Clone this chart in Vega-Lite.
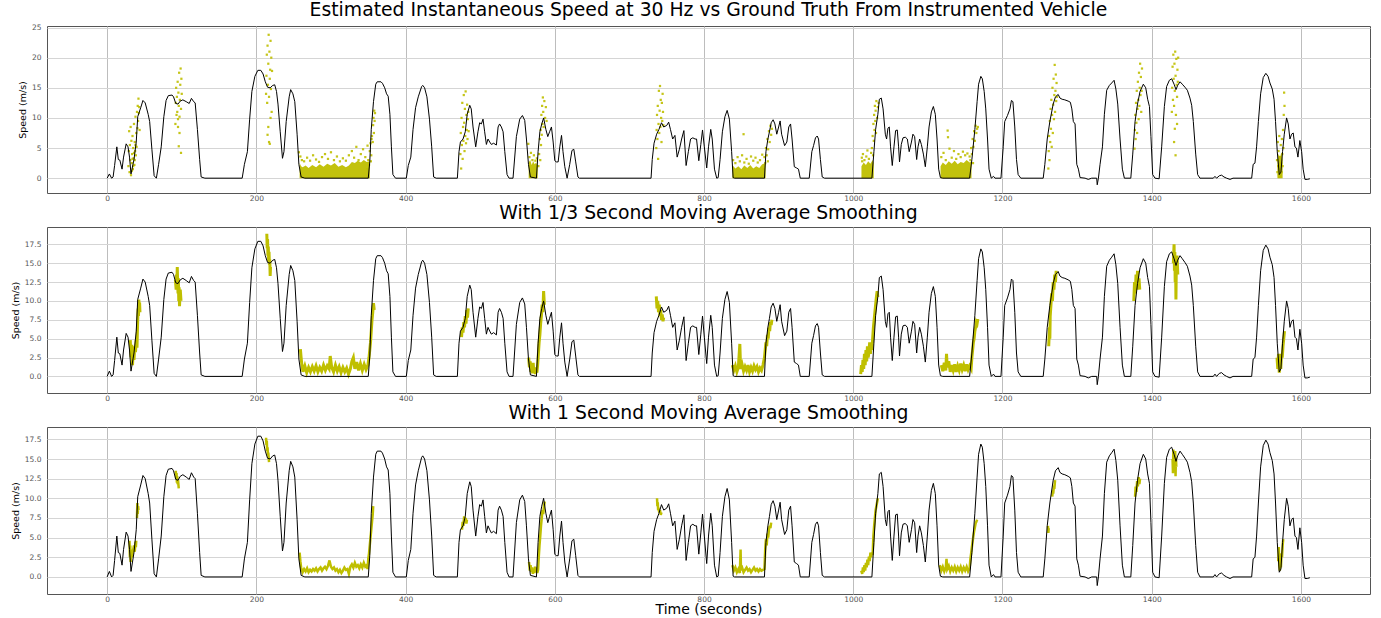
{
"$schema": "https://vega.github.io/schema/vega-lite/v6.json",
"padding": {"left": 9, "top": 0, "right": 5, "bottom": 0},
"spacing": 1,
"config": {
 "font": "DejaVu Sans",
 "view": {"stroke": "#555", "strokeWidth": 1},
 "axis": {"domain": false, "ticks": false, "labelFont": "DejaVu Sans", "labelFontSize": 7.5, "labelColor": "#555", "gridWidth": 1, "titleFont": "DejaVu Sans", "titleFontWeight": "normal", "titleColor": "black"},
 "axisX": {"labelPadding": 1, "titleFontSize": 14, "titlePadding": 0, "gridColor": "#bdbdbd", "format": "d"},
 "axisY": {"labelPadding": 6, "titleFontSize": 9.5, "titlePadding": 4, "gridColor": "#d5d5d5"},
 "title": {"font": "DejaVu Sans", "fontSize": 18.8, "fontWeight": "normal", "color": "black", "offset": 0, "anchor": "middle"}
},
"datasets": {
"truth": [
{"t":0,"v":0},{"t":3,"v":0.7},{"t":6,"v":0},{"t":8,"v":0.2},{"t":10,"v":2.1},{"t":13,"v":5.2},{"t":15,"v":3.1},{"t":17,"v":3.0},{"t":20,"v":1.5},{"t":22,"v":3.5},{"t":25.5,"v":5.7},{"t":28,"v":5.2},{"t":30,"v":3.5},{"t":32,"v":0.7},{"t":36,"v":3.1},{"t":39,"v":6},{"t":41,"v":10.2},{"t":45,"v":11.7},{"t":48,"v":12.9},{"t":51,"v":12.5},{"t":55,"v":10.6},{"t":57,"v":9.4},{"t":60,"v":4.8},{"t":63,"v":0.4},{"t":66,"v":0},{"t":69,"v":2.3},{"t":72.5,"v":5.2},{"t":76,"v":10.2},{"t":79,"v":12.9},{"t":82,"v":13.7},{"t":87,"v":13.8},{"t":89,"v":13.5},{"t":92,"v":12.4},{"t":95,"v":12.3},{"t":98,"v":12.8},{"t":101.5,"v":13},{"t":106,"v":12.7},{"t":110,"v":12.4},{"t":113,"v":13.25},{"t":116,"v":12.7},{"t":118,"v":12.5},{"t":121,"v":8.1},{"t":124,"v":3.1},{"t":126,"v":0.2},{"t":131,"v":0},{"t":181,"v":0},{"t":184,"v":2.3},{"t":188,"v":4.4},{"t":191,"v":9.8},{"t":194,"v":14.4},{"t":198,"v":16.9},{"t":202,"v":17.9},{"t":206,"v":17.9},{"t":209,"v":17.3},{"t":212,"v":16},{"t":215,"v":15.1},{"t":218.5,"v":15},{"t":222,"v":15.4},{"t":224.6,"v":15.5},{"t":227,"v":14.4},{"t":229,"v":12.3},{"t":232,"v":7.7},{"t":235,"v":3.3},{"t":237,"v":4.4},{"t":240,"v":9.4},{"t":244,"v":13.5},{"t":246,"v":14.7},{"t":249,"v":14},{"t":251.5,"v":12.7},{"t":254.6,"v":7.3},{"t":257,"v":2.3},{"t":260,"v":0.2},{"t":265,"v":0},{"t":350,"v":0},{"t":352,"v":2.7},{"t":354,"v":8.1},{"t":357,"v":12.7},{"t":360,"v":15.6},{"t":362,"v":16},{"t":367,"v":16},{"t":369,"v":15.75},{"t":372,"v":15},{"t":374.5,"v":14},{"t":376.7,"v":13.6},{"t":379,"v":10.6},{"t":381,"v":5.2},{"t":383,"v":0.6},{"t":386.5,"v":0},{"t":401,"v":0},{"t":403.6,"v":2.1},{"t":407,"v":3.5},{"t":410,"v":8.1},{"t":413.4,"v":11.7},{"t":417,"v":13.5},{"t":421.5,"v":15.2},{"t":423,"v":15.4},{"t":425.5,"v":15},{"t":428.6,"v":13.5},{"t":432,"v":9.8},{"t":435,"v":5.2},{"t":437.6,"v":0.2},{"t":441,"v":0},{"t":469.4,"v":0},{"t":471.6,"v":4.4},{"t":473.5,"v":6},{"t":477,"v":6.5},{"t":480,"v":7.7},{"t":482.6,"v":10.6},{"t":486,"v":12.1},{"t":488,"v":11.5},{"t":490.4,"v":8.5},{"t":494,"v":5.2},{"t":497,"v":7.7},{"t":499.3,"v":9.2},{"t":501.6,"v":9},{"t":503.8,"v":9.8},{"t":506,"v":7.7},{"t":508.3,"v":5.6},{"t":510.5,"v":6.5},{"t":512.8,"v":6},{"t":515,"v":5.6},{"t":518,"v":5.8},{"t":521.7,"v":5.5},{"t":524,"v":8.5},{"t":526,"v":9},{"t":528.4,"v":8.5},{"t":530.7,"v":7.7},{"t":533,"v":4.4},{"t":536,"v":0.6},{"t":538.7,"v":0},{"t":544,"v":0},{"t":548.5,"v":6.9},{"t":553,"v":9.8},{"t":556.6,"v":10.4},{"t":559.7,"v":9.6},{"t":562,"v":6.5},{"t":564.7,"v":2.3},{"t":567.3,"v":0.2},{"t":575.4,"v":0},{"t":577.6,"v":4.4},{"t":580,"v":7.7},{"t":582.5,"v":9},{"t":585,"v":10},{"t":588,"v":8.1},{"t":590.6,"v":6.9},{"t":593,"v":7.7},{"t":595.5,"v":8.5},{"t":597.8,"v":6},{"t":600,"v":2.9},{"t":602,"v":2.7},{"t":604.5,"v":2.7},{"t":606.7,"v":5.2},{"t":609,"v":7.1},{"t":611,"v":4.4},{"t":613.4,"v":1.9},{"t":616.5,"v":0},{"t":620,"v":2.3},{"t":623,"v":4.6},{"t":625.5,"v":4.8},{"t":628,"v":2.7},{"t":631,"v":0.2},{"t":633,"v":0},{"t":729,"v":0},{"t":730.6,"v":3.1},{"t":733,"v":5.8},{"t":736.5,"v":7.3},{"t":739.6,"v":8.1},{"t":743,"v":9.2},{"t":746,"v":8.5},{"t":750,"v":8.75},{"t":752.6,"v":9.3},{"t":755,"v":8.1},{"t":758,"v":6.5},{"t":761,"v":7.1},{"t":764,"v":3.5},{"t":767,"v":4.8},{"t":770,"v":6.5},{"t":773,"v":7.9},{"t":776,"v":2.1},{"t":779,"v":4.4},{"t":782,"v":6.5},{"t":785,"v":6.7},{"t":788,"v":6.5},{"t":790,"v":6.5},{"t":793,"v":2.9},{"t":795.7,"v":5.6},{"t":798,"v":8},{"t":800.4,"v":5.2},{"t":803.6,"v":1.7},{"t":806,"v":5.2},{"t":809,"v":8.1},{"t":811,"v":6.5},{"t":814,"v":1.5},{"t":817,"v":0},{"t":819,"v":0.1},{"t":821.5,"v":3.1},{"t":824.6,"v":7.7},{"t":828,"v":10.2},{"t":831,"v":11.25},{"t":834,"v":9.8},{"t":837,"v":4.4},{"t":839,"v":0.1},{"t":841,"v":0},{"t":881,"v":0},{"t":883,"v":4.4},{"t":885.6,"v":6.5},{"t":887.7,"v":7.7},{"t":890,"v":9.2},{"t":892.6,"v":9.7},{"t":895,"v":9},{"t":897.5,"v":7.3},{"t":900,"v":8.5},{"t":902,"v":9.5},{"t":904,"v":7.3},{"t":908,"v":5.4},{"t":911,"v":6},{"t":913.6,"v":8.5},{"t":916,"v":9},{"t":918,"v":6.5},{"t":921,"v":1.9},{"t":924,"v":1.7},{"t":926.6,"v":1.5},{"t":929,"v":0},{"t":941,"v":0},{"t":944.5,"v":4.4},{"t":946.8,"v":5.4},{"t":949.4,"v":6.7},{"t":951.7,"v":7},{"t":953.5,"v":6.5},{"t":956,"v":3.1},{"t":958.4,"v":0.2},{"t":961.5,"v":0},{"t":1025,"v":0},{"t":1027.7,"v":4.4},{"t":1030,"v":8.1},{"t":1033,"v":10.6},{"t":1035,"v":13.1},{"t":1037.6,"v":13.3},{"t":1040,"v":11.5},{"t":1043,"v":7.3},{"t":1044.7,"v":6.5},{"t":1046.5,"v":8.3},{"t":1048.3,"v":8.5},{"t":1050,"v":5.2},{"t":1052.3,"v":2.1},{"t":1054.6,"v":5.2},{"t":1056.8,"v":7.9},{"t":1059,"v":8},{"t":1060.8,"v":5.2},{"t":1062,"v":2.7},{"t":1064.4,"v":5.6},{"t":1066.7,"v":6.7},{"t":1069.8,"v":6.8},{"t":1072.5,"v":6.5},{"t":1075,"v":4.4},{"t":1078,"v":6},{"t":1080,"v":7.3},{"t":1082.3,"v":6.9},{"t":1085,"v":3.1},{"t":1086.8,"v":5.2},{"t":1089,"v":6.5},{"t":1091.3,"v":5.6},{"t":1094,"v":4},{"t":1096.6,"v":1.9},{"t":1099.3,"v":5.2},{"t":1101.6,"v":8.5},{"t":1104.7,"v":11},{"t":1107.4,"v":11.9},{"t":1110,"v":10.6},{"t":1112.3,"v":6.5},{"t":1114.5,"v":1.5},{"t":1116.8,"v":0.1},{"t":1120,"v":0},{"t":1156,"v":0},{"t":1159,"v":3.1},{"t":1163,"v":8.1},{"t":1166,"v":12.7},{"t":1168,"v":15.6},{"t":1171,"v":16.9},{"t":1173,"v":16.5},{"t":1175.5,"v":14.4},{"t":1177.6,"v":11.5},{"t":1180,"v":6.5},{"t":1182,"v":1.5},{"t":1185,"v":0},{"t":1188,"v":0.3},{"t":1190,"v":0},{"t":1198,"v":0},{"t":1201,"v":5.2},{"t":1203,"v":9.4},{"t":1206.7,"v":10.4},{"t":1210,"v":11.5},{"t":1212,"v":12.9},{"t":1214,"v":12.7},{"t":1216.5,"v":8.5},{"t":1218.8,"v":3.1},{"t":1221,"v":0.6},{"t":1224.6,"v":0},{"t":1254.6,"v":0},{"t":1256.8,"v":2.3},{"t":1260,"v":6.5},{"t":1263.5,"v":9.4},{"t":1268,"v":12.3},{"t":1271,"v":13.5},{"t":1274.7,"v":13.9},{"t":1277,"v":13.3},{"t":1280,"v":13.1},{"t":1283.6,"v":13},{"t":1288,"v":12.8},{"t":1291,"v":12.6},{"t":1293,"v":11.5},{"t":1295,"v":9.4},{"t":1297.3,"v":9},{"t":1299.6,"v":2.3},{"t":1301.8,"v":1.5},{"t":1304,"v":0.1},{"t":1310.7,"v":0},{"t":1315,"v":-0.2},{"t":1319.6,"v":0},{"t":1326.3,"v":0},{"t":1327,"v":-1.1},{"t":1328.6,"v":0},{"t":1330.8,"v":2.3},{"t":1334,"v":5.2},{"t":1336.6,"v":10.6},{"t":1339.7,"v":14.6},{"t":1343.3,"v":15.4},{"t":1346.4,"v":15.8},{"t":1349.6,"v":16.25},{"t":1352,"v":14.8},{"t":1354.5,"v":12.3},{"t":1357.6,"v":6.5},{"t":1360.7,"v":1.5},{"t":1363.4,"v":0},{"t":1372,"v":0},{"t":1374.6,"v":4},{"t":1377.7,"v":9.4},{"t":1381,"v":12.3},{"t":1384.4,"v":14.4},{"t":1388.8,"v":15.6},{"t":1392,"v":15},{"t":1394.6,"v":13.1},{"t":1397,"v":11.9},{"t":1399,"v":6.9},{"t":1401.3,"v":0.6},{"t":1404.5,"v":0},{"t":1410,"v":-0.1},{"t":1413.4,"v":5.2},{"t":1417,"v":11.9},{"t":1420,"v":15.2},{"t":1423.7,"v":16.25},{"t":1426.8,"v":16.5},{"t":1430,"v":15.6},{"t":1432.6,"v":14.7},{"t":1434.8,"v":15.4},{"t":1438,"v":16},{"t":1441,"v":15.6},{"t":1444.6,"v":15.1},{"t":1447.8,"v":14.6},{"t":1451.3,"v":13.3},{"t":1453.6,"v":12.1},{"t":1455.8,"v":9.4},{"t":1459,"v":4},{"t":1461.6,"v":0.6},{"t":1464.7,"v":0},{"t":1482.6,"v":0},{"t":1484.8,"v":0.3},{"t":1487,"v":0},{"t":1490.6,"v":0.4},{"t":1493.7,"v":0.5},{"t":1496.9,"v":0.2},{"t":1500.4,"v":0},{"t":1505,"v":-0.2},{"t":1509,"v":0},{"t":1534,"v":0},{"t":1536,"v":2.3},{"t":1538.4,"v":2.5},{"t":1540.6,"v":5.2},{"t":1543,"v":9.4},{"t":1546,"v":14},{"t":1549.5,"v":16.7},{"t":1553,"v":17.4},{"t":1556,"v":16.9},{"t":1558.5,"v":15.8},{"t":1561.6,"v":14.8},{"t":1564,"v":13.1},{"t":1566,"v":9.4},{"t":1568.3,"v":4.4},{"t":1571,"v":0.6},{"t":1573.2,"v":1.0},{"t":1575.4,"v":4.4},{"t":1577.7,"v":7.3},{"t":1580.8,"v":10},{"t":1583,"v":9},{"t":1585.3,"v":6.5},{"t":1587.5,"v":7.3},{"t":1589.7,"v":7.5},{"t":1592,"v":5.2},{"t":1594,"v":5},{"t":1596,"v":3.5},{"t":1598.6,"v":6.25},{"t":1601,"v":4.4},{"t":1603,"v":1.5},{"t":1605.4,"v":-0.2},{"t":1608.5,"v":-0.2},{"t":1612,"v":-0.1}
],
"p1core": [
{"s":"D","t":258,"v":2.5},{"s":"D","t":260,"v":2.0},{"s":"D","t":262,"v":1.8},{"s":"D","t":266,"v":2.1},{"s":"D","t":270,"v":1.7},{"s":"D","t":275,"v":2.2},{"s":"D","t":280,"v":1.8},{"s":"D","t":285,"v":2.3},{"s":"D","t":290,"v":1.9},{"s":"D","t":295,"v":2.4},{"s":"D","t":300,"v":2.1},{"s":"D","t":305,"v":2.5},{"s":"D","t":310,"v":1.9},{"s":"D","t":315,"v":2.2},{"s":"D","t":320,"v":1.8},{"s":"D","t":324,"v":2.1},{"s":"D","t":328,"v":2.7},{"s":"D","t":332,"v":2.5},{"s":"D","t":336,"v":2.9},{"s":"D","t":340,"v":2.6},{"s":"D","t":344,"v":3.0},{"s":"D","t":348,"v":2.7},{"s":"D","t":352,"v":2.8},
{"s":"F","t":565,"v":2.6},{"s":"F","t":567,"v":3.0},{"s":"F","t":569,"v":2.2},{"s":"F","t":571,"v":2.8},{"s":"F","t":573,"v":2.3},{"s":"F","t":575,"v":2.6},{"s":"F","t":577,"v":2.0},
{"s":"H","t":838,"v":2.2},{"s":"H","t":842,"v":1.6},{"s":"H","t":846,"v":2.0},{"s":"H","t":850,"v":1.5},{"s":"H","t":854,"v":2.1},{"s":"H","t":858,"v":1.7},{"s":"H","t":862,"v":2.2},{"s":"H","t":866,"v":1.6},{"s":"H","t":870,"v":2.0},{"s":"H","t":874,"v":1.7},{"s":"H","t":878,"v":2.3},{"s":"H","t":882.5,"v":2.5},
{"s":"I","t":1011,"v":2.0},{"s":"I","t":1014,"v":2.6},{"s":"I","t":1017,"v":2.2},{"s":"I","t":1020,"v":2.8},{"s":"I","t":1023,"v":2.4},{"s":"I","t":1026,"v":3.0},{"s":"I","t":1027.5,"v":2.5},
{"s":"J","t":1117,"v":2.0},{"s":"J","t":1120,"v":2.6},{"s":"J","t":1124,"v":2.2},{"s":"J","t":1128,"v":2.8},{"s":"J","t":1132,"v":2.4},{"s":"J","t":1136,"v":2.9},{"s":"J","t":1140,"v":2.3},{"s":"J","t":1144,"v":2.7},{"s":"J","t":1148,"v":2.5},{"s":"J","t":1152,"v":3.0},{"s":"J","t":1156,"v":2.6},{"s":"J","t":1158.5,"v":2.8},
{"s":"N","t":1568.5,"v":3.0},{"s":"N","t":1570,"v":4.0},{"s":"N","t":1572,"v":3.5},{"s":"N","t":1574,"v":4.3},{"s":"N","t":1575.5,"v":3.0}
],
"p1pts": [
{"t":28.5,"v":2.0},{"t":29,"v":4.5},{"t":29.5,"v":7.8},{"t":30,"v":1.0},{"t":30.5,"v":5.5},{"t":31,"v":3.0},{"t":31.5,"v":8.5},{"t":32,"v":0.5},{"t":32.5,"v":6.2},{"t":33,"v":2.5},{"t":33.5,"v":4.0},{"t":34,"v":7.0},{"t":34.5,"v":1.5},{"t":35,"v":5.0},{"t":35.5,"v":3.3},{"t":36,"v":9.0},{"t":36.5,"v":2.2},{"t":37,"v":6.0},{"t":37.5,"v":4.5},{"t":38,"v":10.2},{"t":38.5,"v":3.8},{"t":39,"v":7.5},{"t":39.5,"v":5.2},{"t":40,"v":11.0},{"t":40.5,"v":8.3},{"t":41,"v":12.0},{"t":41.5,"v":9.5},{"t":42,"v":13.2},{"t":42.5,"v":10.8},{"t":43,"v":11.8},{"t":43.5,"v":8.0},{"t":34,"v":3.2},{"t":35,"v":2.0},{"t":36,"v":4.2},{"t":37,"v":3.0},{"t":38,"v":5.5},{"t":33,"v":1.2},
{"t":91.5,"v":9.0},{"t":92,"v":12.5},{"t":92.5,"v":15.0},{"t":93,"v":10.5},{"t":93.5,"v":13.5},{"t":94,"v":11.0},{"t":94.5,"v":16.0},{"t":95,"v":9.8},{"t":95.5,"v":14.2},{"t":96,"v":12.0},{"t":96.5,"v":17.5},{"t":97,"v":10.2},{"t":97.5,"v":13.0},{"t":98,"v":15.5},{"t":98.5,"v":18.2},{"t":99,"v":11.5},{"t":99.5,"v":16.5},{"t":100,"v":14.0},{"t":96,"v":5.3},{"t":99,"v":4.2},{"t":97,"v":7.5},{"t":95,"v":8.5},
{"t":213,"v":14.0},{"t":213.5,"v":17.0},{"t":214,"v":20.5},{"t":214.5,"v":12.5},{"t":215,"v":22.0},{"t":215.5,"v":15.5},{"t":216,"v":19.0},{"t":216.5,"v":23.8},{"t":217,"v":13.5},{"t":217.5,"v":21.0},{"t":218,"v":16.5},{"t":218.5,"v":18.0},{"t":219,"v":22.8},{"t":219.5,"v":14.8},{"t":220,"v":20.0},{"t":220.5,"v":11.0},{"t":221,"v":17.8},{"t":216,"v":8.5},{"t":218,"v":5.7},{"t":219,"v":10.0},{"t":215,"v":7.2},{"t":217,"v":6.0},
{"t":257,"v":4.3},{"t":259,"v":3.6},{"t":261,"v":3.0},{"t":264,"v":2.8},{"t":268,"v":3.4},{"t":272,"v":2.9},{"t":276,"v":3.8},{"t":280,"v":3.1},{"t":284,"v":2.7},{"t":288,"v":3.5},{"t":292,"v":4.0},{"t":296,"v":3.2},{"t":300,"v":4.3},{"t":304,"v":3.0},{"t":308,"v":3.6},{"t":312,"v":2.8},{"t":316,"v":3.3},{"t":320,"v":2.9},{"t":324,"v":3.8},{"t":328,"v":4.5},{"t":331,"v":3.4},{"t":334,"v":5.2},{"t":337,"v":3.0},{"t":340,"v":4.0},{"t":343,"v":4.8},{"t":346,"v":3.5},{"t":349,"v":5.4},
{"t":349,"v":1.5},{"t":350,"v":3.0},{"t":351,"v":2.2},{"t":352,"v":4.5},{"t":353,"v":5.8},{"t":354,"v":3.8},{"t":355,"v":7.0},{"t":356,"v":6.0},{"t":356.5,"v":8.8},{"t":357,"v":10.0},{"t":357.5,"v":7.5},{"t":358,"v":11.2},{"t":358.5,"v":9.5},{"t":359,"v":10.8},{"t":354.5,"v":6.5},{"t":353.5,"v":2.8},
{"t":473.5,"v":4.0},{"t":474,"v":7.5},{"t":474.5,"v":1.6},{"t":475,"v":10.0},{"t":475.5,"v":5.5},{"t":476,"v":12.5},{"t":476.5,"v":3.2},{"t":477,"v":8.5},{"t":477.5,"v":6.2},{"t":478,"v":13.8},{"t":478.5,"v":9.2},{"t":479,"v":4.5},{"t":479.5,"v":11.5},{"t":480,"v":7.0},{"t":480.5,"v":14.4},{"t":481,"v":5.8},{"t":481.5,"v":10.5},{"t":482,"v":8.0},{"t":482.5,"v":12.2},{"t":483,"v":6.5},{"t":483.5,"v":9.8},{"t":484,"v":11.0},{"t":484.5,"v":7.8},
{"t":564.5,"v":5.7},{"t":566,"v":3.5},{"t":568,"v":4.2},{"t":570,"v":3.0},{"t":572,"v":3.8},{"t":574,"v":2.9},{"t":576,"v":3.3},{"t":578,"v":2.0},{"t":579,"v":4.0},{"t":580,"v":6.5},{"t":580.5,"v":3.0},{"t":581,"v":8.0},{"t":581.5,"v":5.5},{"t":582,"v":10.5},{"t":582.5,"v":7.2},{"t":583,"v":12.0},{"t":583.5,"v":9.0},{"t":584,"v":13.4},{"t":584.5,"v":11.0},{"t":585,"v":8.5},{"t":586,"v":12.8},{"t":587,"v":10.0},{"t":588,"v":11.8},{"t":589,"v":9.5},
{"t":736,"v":5.0},{"t":736.5,"v":8.0},{"t":737,"v":10.5},{"t":737.5,"v":6.5},{"t":738,"v":12.0},{"t":738.5,"v":3.2},{"t":739,"v":9.0},{"t":739.5,"v":14.5},{"t":740,"v":7.5},{"t":740.5,"v":11.2},{"t":741,"v":15.3},{"t":741.5,"v":8.5},{"t":742,"v":13.0},{"t":742.5,"v":10.0},{"t":743,"v":6.0},{"t":743.5,"v":12.5},{"t":744,"v":9.5},{"t":744.5,"v":14.0},{"t":745,"v":11.0},{"t":745.5,"v":8.8},
{"t":839,"v":3.0},{"t":842,"v":2.5},{"t":845,"v":3.5},{"t":848,"v":2.8},{"t":851,"v":3.8},{"t":853,"v":7.3},{"t":854,"v":2.6},{"t":857,"v":3.2},{"t":860,"v":2.4},{"t":863,"v":3.6},{"t":866,"v":2.9},{"t":869,"v":3.4},{"t":872,"v":2.6},{"t":875,"v":3.0},{"t":878,"v":3.9},
{"t":880,"v":1.5},{"t":881,"v":3.5},{"t":882,"v":2.5},{"t":883,"v":5.0},{"t":884,"v":3.8},{"t":885,"v":6.5},{"t":886,"v":4.8},{"t":887,"v":7.8},{"t":888,"v":6.0},{"t":889,"v":8.7},{"t":890,"v":7.2},{"t":891,"v":8.2},{"t":885.5,"v":2.8},
{"t":1011.5,"v":3.4},{"t":1013,"v":4.0},{"t":1015,"v":3.0},{"t":1017.5,"v":3.6},{"t":1019,"v":4.6},{"t":1021,"v":3.2},{"t":1024,"v":4.2},{"t":1012,"v":2.8},
{"t":1025,"v":5.0},{"t":1026,"v":7.0},{"t":1026.5,"v":3.8},{"t":1027,"v":9.0},{"t":1027.5,"v":6.2},{"t":1028,"v":10.5},{"t":1028.5,"v":8.0},{"t":1029,"v":12.0},{"t":1029.5,"v":9.5},{"t":1030,"v":11.2},{"t":1031,"v":12.8},{"t":1032,"v":10.0},{"t":1033,"v":11.8},{"t":1034,"v":12.5},{"t":1030.5,"v":7.5},
{"t":1118,"v":3.5},{"t":1121,"v":4.2},{"t":1124,"v":3.0},{"t":1126.5,"v":7.9},{"t":1127,"v":6.8},{"t":1129,"v":4.9},{"t":1132,"v":3.4},{"t":1135,"v":4.5},{"t":1138,"v":3.2},{"t":1141,"v":4.0},{"t":1144,"v":3.5},{"t":1147,"v":4.4},{"t":1150,"v":3.8},{"t":1153,"v":4.1},{"t":1156,"v":3.6},
{"t":1157,"v":3.0},{"t":1158,"v":5.0},{"t":1159,"v":4.0},{"t":1160,"v":6.5},{"t":1161,"v":5.2},{"t":1162,"v":7.8},{"t":1163,"v":6.2},{"t":1164,"v":8.7},{"t":1165,"v":7.5},{"t":1166,"v":8.2},{"t":1167,"v":8.5},{"t":1160.5,"v":2.5},
{"t":1261.5,"v":1.6},{"t":1262,"v":4.5},{"t":1262.5,"v":7.0},{"t":1263,"v":3.0},{"t":1263.5,"v":9.5},{"t":1264,"v":6.0},{"t":1264.5,"v":11.5},{"t":1265,"v":8.2},{"t":1265.5,"v":13.0},{"t":1266,"v":5.2},{"t":1266.5,"v":10.5},{"t":1267,"v":15.0},{"t":1267.5,"v":7.5},{"t":1268,"v":12.2},{"t":1268.5,"v":16.5},{"t":1269,"v":9.8},{"t":1269.5,"v":13.8},{"t":1270,"v":18.8},{"t":1270.5,"v":11.0},{"t":1271,"v":14.5},{"t":1271.5,"v":17.2},{"t":1272,"v":12.8},{"t":1272.5,"v":15.8},{"t":1273,"v":13.5},
{"t":1377,"v":4.9},{"t":1377.5,"v":8.0},{"t":1378,"v":10.5},{"t":1378.5,"v":6.5},{"t":1379,"v":12.5},{"t":1379.5,"v":9.2},{"t":1380,"v":14.5},{"t":1380.5,"v":7.5},{"t":1381,"v":11.5},{"t":1381.5,"v":16.0},{"t":1382,"v":13.0},{"t":1382.5,"v":9.8},{"t":1383,"v":17.5},{"t":1383.5,"v":12.0},{"t":1384,"v":15.0},{"t":1384.5,"v":19.0},{"t":1385,"v":13.8},{"t":1385.5,"v":16.8},{"t":1386,"v":11.0},{"t":1386.5,"v":14.5},{"t":1387,"v":18.2},
{"t":1427,"v":11.0},{"t":1427.5,"v":15.0},{"t":1428,"v":18.5},{"t":1428.5,"v":13.0},{"t":1429,"v":20.5},{"t":1429.5,"v":16.5},{"t":1430,"v":12.0},{"t":1430.5,"v":19.0},{"t":1431,"v":14.5},{"t":1431.5,"v":21.0},{"t":1432,"v":17.0},{"t":1432.5,"v":10.5},{"t":1433,"v":19.8},{"t":1433.5,"v":15.5},{"t":1434,"v":13.5},{"t":1434.5,"v":18.0},{"t":1435,"v":16.0},{"t":1435.5,"v":20.0},{"t":1430,"v":6.0},{"t":1432,"v":3.8},{"t":1431,"v":8.2},{"t":1434,"v":9.0},
{"t":1568,"v":3.0},{"t":1568.5,"v":1.0},{"t":1569,"v":6.0},{"t":1569.5,"v":2.0},{"t":1570,"v":4.5},{"t":1570.5,"v":0.5},{"t":1571,"v":7.0},{"t":1571.5,"v":1.5},{"t":1572,"v":3.5},{"t":1572.5,"v":0.3},{"t":1573,"v":5.5},{"t":1573.5,"v":2.5},{"t":1574,"v":1.0},{"t":1574.5,"v":6.5},{"t":1575,"v":4.0},{"t":1575.5,"v":2.0},{"t":1576,"v":8.0},{"t":1577,"v":10.5},{"t":1577.5,"v":14.2},{"t":1578,"v":12.0},{"t":1576.5,"v":5.0},{"t":1572,"v":0.8},{"t":1571,"v":0.2}
],
"p2": [
{"s":"a","t":31,"v":4.8},{"s":"a","t":32,"v":2.5},{"s":"a","t":33,"v":4.2},{"s":"a","t":34,"v":1.5},{"s":"a","t":35,"v":3.5},{"s":"a","t":36,"v":2.2},{"s":"a","t":37,"v":4.0},{"s":"a","t":38,"v":3.2},{"s":"a","t":39,"v":4.8},{"s":"a","t":40,"v":3.8},{"s":"a","t":40.5,"v":5.8},{"s":"a","t":41,"v":7.5},{"s":"a","t":41.5,"v":9.0},{"s":"a","t":42,"v":8.0},{"s":"a","t":42.5,"v":10.2},{"s":"a","t":43,"v":8.8},{"s":"a","t":43.5,"v":9.8},{"s":"a","t":44,"v":8.5},
{"s":"b","t":91.5,"v":12.8},{"s":"b","t":92.5,"v":11.5},{"s":"b","t":93,"v":13.5},{"s":"b","t":93.5,"v":12.0},{"s":"b","t":94,"v":14.5},{"s":"b","t":94.5,"v":12.5},{"s":"b","t":95,"v":11.0},{"s":"b","t":95.5,"v":13.0},{"s":"b","t":96,"v":10.0},{"s":"b","t":96.5,"v":11.8},{"s":"b","t":97,"v":9.3},{"s":"b","t":97.5,"v":10.5},{"s":"b","t":98,"v":11.5},{"s":"b","t":99,"v":10.0},
{"s":"c","t":214,"v":18.9},{"s":"c","t":214.5,"v":17.0},{"s":"c","t":215,"v":18.2},{"s":"c","t":215.5,"v":16.0},{"s":"c","t":216,"v":17.2},{"s":"c","t":216.5,"v":15.2},{"s":"c","t":217,"v":16.5},{"s":"c","t":217.5,"v":14.8},{"s":"c","t":218,"v":15.5},{"s":"c","t":218.5,"v":13.3},{"s":"c","t":219,"v":14.5},
{"s":"d","t":259,"v":3.6},{"s":"d","t":260,"v":2.5},{"s":"d","t":261,"v":1.5},{"s":"d","t":262.5,"v":0.6},{"s":"d","t":265,"v":1.4},{"s":"d","t":267.5,"v":0.5},{"s":"d","t":270,"v":1.2},{"s":"d","t":272.5,"v":0.6},{"s":"d","t":275,"v":1.3},{"s":"d","t":277.5,"v":0.7},{"s":"d","t":280,"v":1.4},{"s":"d","t":282.5,"v":0.6},{"s":"d","t":285,"v":1.2},{"s":"d","t":287.5,"v":0.7},{"s":"d","t":290,"v":1.5},{"s":"d","t":292.5,"v":0.8},{"s":"d","t":295,"v":1.4},{"s":"d","t":297.5,"v":1.0},{"s":"d","t":299,"v":2.7},{"s":"d","t":301,"v":1.2},{"s":"d","t":303.5,"v":0.6},{"s":"d","t":306,"v":1.5},{"s":"d","t":308.5,"v":0.7},{"s":"d","t":311,"v":1.3},{"s":"d","t":313.5,"v":0.5},{"s":"d","t":316,"v":1.2},{"s":"d","t":318.5,"v":0.6},{"s":"d","t":321,"v":1.1},{"s":"d","t":323.5,"v":0.3},{"s":"d","t":326,"v":1.0},{"s":"d","t":328,"v":2.0},{"s":"d","t":330,"v":2.5},{"s":"d","t":332,"v":1.0},{"s":"d","t":334.5,"v":1.9},{"s":"d","t":337,"v":0.8},{"s":"d","t":339.5,"v":1.7},{"s":"d","t":342,"v":0.8},{"s":"d","t":344.5,"v":1.6},{"s":"d","t":347,"v":0.9},{"s":"d","t":349.5,"v":1.5},{"s":"d","t":351,"v":2.5},{"s":"d","t":352,"v":3.5},{"s":"d","t":353,"v":4.5},{"s":"d","t":354,"v":6.0},{"s":"d","t":355,"v":7.5},{"s":"d","t":356,"v":8.5},{"s":"d","t":357,"v":9.7},{"s":"d","t":358,"v":8.8},
{"s":"e","t":475,"v":5.2},{"s":"e","t":476,"v":6.5},{"s":"e","t":477,"v":5.8},{"s":"e","t":478,"v":7.2},{"s":"e","t":479,"v":6.5},{"s":"e","t":480,"v":8.0},{"s":"e","t":481,"v":7.0},{"s":"e","t":482,"v":8.8},{"s":"e","t":483,"v":7.8},{"s":"e","t":484,"v":9.0},
{"s":"f","t":565,"v":2.5},{"s":"f","t":566,"v":1.2},{"s":"f","t":567,"v":2.0},{"s":"f","t":568,"v":0.6},{"s":"f","t":569,"v":1.5},{"s":"f","t":570,"v":0.4},{"s":"f","t":571,"v":1.8},{"s":"f","t":572,"v":0.5},{"s":"f","t":573,"v":1.2},{"s":"f","t":574,"v":0.3},{"s":"f","t":575,"v":1.0},{"s":"f","t":576,"v":0.5},{"s":"f","t":577,"v":1.5},{"s":"f","t":578,"v":3.0},{"s":"f","t":579,"v":4.5},{"s":"f","t":580,"v":5.5},{"s":"f","t":581,"v":7.0},{"s":"f","t":582,"v":8.0},{"s":"f","t":583,"v":9.5},{"s":"f","t":584,"v":8.5},{"s":"f","t":585,"v":11.3},{"s":"f","t":586,"v":9.5},
{"s":"g","t":736,"v":10.6},{"s":"g","t":737,"v":9.0},{"s":"g","t":738,"v":10.0},{"s":"g","t":739,"v":8.5},{"s":"g","t":740,"v":9.5},{"s":"g","t":741,"v":8.0},{"s":"g","t":742,"v":8.8},{"s":"g","t":743,"v":7.5},{"s":"g","t":744,"v":8.2},{"s":"g","t":745,"v":7.3},{"s":"g","t":746,"v":7.8},
{"s":"h","t":838,"v":1.5},{"s":"h","t":840,"v":0.8},{"s":"h","t":842,"v":1.4},{"s":"h","t":844,"v":0.6},{"s":"h","t":846,"v":1.2},{"s":"h","t":848,"v":4.3},{"s":"h","t":849,"v":1.0},{"s":"h","t":851,"v":1.6},{"s":"h","t":853,"v":0.7},{"s":"h","t":855,"v":1.3},{"s":"h","t":857,"v":0.8},{"s":"h","t":859,"v":1.5},{"s":"h","t":861,"v":0.6},{"s":"h","t":863,"v":1.2},{"s":"h","t":865,"v":0.7},{"s":"h","t":867,"v":1.4},{"s":"h","t":869,"v":0.9},{"s":"h","t":871,"v":1.3},{"s":"h","t":873,"v":0.6},{"s":"h","t":875,"v":1.1},{"s":"h","t":877,"v":0.8},{"s":"h","t":879,"v":1.5},{"s":"h","t":881,"v":2.5},{"s":"h","t":882,"v":3.5},{"s":"h","t":883,"v":4.5},{"s":"h","t":884,"v":4.0},{"s":"h","t":885,"v":5.5},{"s":"h","t":886,"v":5.0},{"s":"h","t":887,"v":6.5},{"s":"h","t":888,"v":6.0},{"s":"h","t":889,"v":7.2},{"s":"h","t":890,"v":6.8},{"s":"h","t":891,"v":7.5},
{"s":"i","t":1010,"v":0.3},{"s":"i","t":1011,"v":1.5},{"s":"i","t":1012,"v":0.6},{"s":"i","t":1013,"v":2.2},{"s":"i","t":1014,"v":1.0},{"s":"i","t":1015,"v":3.0},{"s":"i","t":1016,"v":1.5},{"s":"i","t":1017,"v":3.5},{"s":"i","t":1018,"v":2.0},{"s":"i","t":1019,"v":4.0},{"s":"i","t":1020,"v":2.5},{"s":"i","t":1021,"v":3.2},{"s":"i","t":1022,"v":4.5},{"s":"i","t":1023,"v":3.0},{"s":"i","t":1024,"v":4.2},{"s":"i","t":1025,"v":3.5},{"s":"i","t":1026,"v":5.0},{"s":"i","t":1027,"v":6.5},{"s":"i","t":1028,"v":7.5},{"s":"i","t":1029,"v":8.5},{"s":"i","t":1030,"v":9.5},{"s":"i","t":1031,"v":10.5},{"s":"i","t":1032,"v":11.3},{"s":"i","t":1033,"v":10.5},
{"s":"j","t":1118,"v":1.5},{"s":"j","t":1120,"v":0.7},{"s":"j","t":1122,"v":1.8},{"s":"j","t":1124,"v":0.8},{"s":"j","t":1125,"v":3.0},{"s":"j","t":1126,"v":1.2},{"s":"j","t":1128,"v":2.0},{"s":"j","t":1130,"v":0.6},{"s":"j","t":1132,"v":1.5},{"s":"j","t":1134,"v":0.8},{"s":"j","t":1136,"v":1.6},{"s":"j","t":1138,"v":0.6},{"s":"j","t":1140,"v":1.4},{"s":"j","t":1142,"v":0.8},{"s":"j","t":1144,"v":1.7},{"s":"j","t":1146,"v":0.9},{"s":"j","t":1148,"v":1.5},{"s":"j","t":1150,"v":0.7},{"s":"j","t":1152,"v":1.6},{"s":"j","t":1154,"v":0.9},{"s":"j","t":1156,"v":1.4},{"s":"j","t":1158,"v":1.0},{"s":"j","t":1159,"v":2.5},{"s":"j","t":1160,"v":3.5},{"s":"j","t":1161,"v":4.5},{"s":"j","t":1162,"v":5.0},{"s":"j","t":1163,"v":6.0},{"s":"j","t":1164,"v":6.5},{"s":"j","t":1165,"v":7.2},{"s":"j","t":1166,"v":7.0},{"s":"j","t":1167,"v":7.6},
{"s":"k","t":1262,"v":4.0},{"s":"k","t":1263,"v":6.5},{"s":"k","t":1263.5,"v":5.0},{"s":"k","t":1264,"v":8.0},{"s":"k","t":1265,"v":9.5},{"s":"k","t":1266,"v":11.0},{"s":"k","t":1267,"v":10.0},{"s":"k","t":1268,"v":12.5},{"s":"k","t":1269,"v":11.5},{"s":"k","t":1270,"v":13.5},{"s":"k","t":1271,"v":12.5},{"s":"k","t":1272,"v":14.0},
{"s":"l","t":1376,"v":10.0},{"s":"l","t":1377,"v":12.5},{"s":"l","t":1378,"v":11.0},{"s":"l","t":1379,"v":13.5},{"s":"l","t":1380,"v":11.5},{"s":"l","t":1381,"v":14.0},{"s":"l","t":1382,"v":12.0},{"s":"l","t":1383,"v":13.0},{"s":"l","t":1384,"v":11.5},
{"s":"m","t":1429,"v":15.0},{"s":"m","t":1430,"v":17.5},{"s":"m","t":1430.5,"v":14.0},{"s":"m","t":1431,"v":16.5},{"s":"m","t":1431.5,"v":12.5},{"s":"m","t":1432,"v":15.5},{"s":"m","t":1432.5,"v":10.2},{"s":"m","t":1433,"v":14.5},{"s":"m","t":1434,"v":16.0},{"s":"m","t":1435,"v":13.5},
{"s":"n","t":1568,"v":2.5},{"s":"n","t":1569,"v":1.0},{"s":"n","t":1570,"v":3.0},{"s":"n","t":1571,"v":0.5},{"s":"n","t":1572,"v":2.0},{"s":"n","t":1573,"v":1.0},{"s":"n","t":1574,"v":3.0},{"s":"n","t":1575,"v":2.5},{"s":"n","t":1576,"v":4.0},{"s":"n","t":1577,"v":5.0},{"s":"n","t":1578,"v":6.0}
],
"p3": [
{"s":"a","t":30,"v":4.6},{"s":"a","t":30.5,"v":2.5},{"s":"a","t":31,"v":4.0},{"s":"a","t":31.5,"v":1.9},{"s":"a","t":32,"v":3.5},{"s":"a","t":33,"v":2.5},{"s":"a","t":34,"v":3.0},{"s":"a","t":35,"v":3.5},{"s":"a","t":36,"v":4.0},{"s":"a","t":37,"v":3.2},{"s":"a","t":38,"v":4.5},{"s":"a","t":38.5,"v":3.8},{"s":"a","t":39,"v":4.6},
{"s":"a2","t":40,"v":7.5},{"s":"a2","t":40.5,"v":9.4},{"s":"a2","t":41,"v":8.0},{"s":"a2","t":41.5,"v":9.0},{"s":"a2","t":42,"v":8.5},
{"s":"b","t":92,"v":13.5},{"s":"b","t":92.5,"v":12.5},{"s":"b","t":93,"v":13.2},{"s":"b","t":93.5,"v":12.0},{"s":"b","t":94,"v":12.8},{"s":"b","t":94.5,"v":11.8},{"s":"b","t":95,"v":12.3},{"s":"b","t":96,"v":11.25},
{"s":"c","t":213,"v":17.7},{"s":"c","t":213.5,"v":16.8},{"s":"c","t":214,"v":17.3},{"s":"c","t":214.5,"v":16.0},{"s":"c","t":215,"v":16.5},{"s":"c","t":215.5,"v":15.5},{"s":"c","t":216,"v":15.8},{"s":"c","t":217,"v":14.6},
{"s":"d","t":258,"v":3.1},{"s":"d","t":259,"v":2.0},{"s":"d","t":260,"v":1.2},{"s":"d","t":262,"v":0.6},{"s":"d","t":264,"v":1.0},{"s":"d","t":266,"v":0.7},{"s":"d","t":268,"v":1.1},{"s":"d","t":270,"v":0.6},{"s":"d","t":272,"v":0.9},{"s":"d","t":274,"v":0.7},{"s":"d","t":276,"v":1.0},{"s":"d","t":278,"v":0.8},{"s":"d","t":280,"v":1.1},{"s":"d","t":282,"v":0.7},{"s":"d","t":284,"v":1.0},{"s":"d","t":286,"v":1.2},{"s":"d","t":288,"v":0.8},{"s":"d","t":290,"v":1.1},{"s":"d","t":292,"v":1.3},{"s":"d","t":294,"v":1.0},{"s":"d","t":296,"v":1.4},{"s":"d","t":298,"v":2.1},{"s":"d","t":300,"v":1.3},{"s":"d","t":302,"v":1.0},{"s":"d","t":304,"v":1.2},{"s":"d","t":306,"v":0.8},{"s":"d","t":308,"v":1.0},{"s":"d","t":310,"v":0.6},{"s":"d","t":312,"v":0.9},{"s":"d","t":314,"v":0.5},{"s":"d","t":316,"v":0.8},{"s":"d","t":318,"v":1.2},{"s":"d","t":320,"v":0.9},{"s":"d","t":322,"v":1.0},{"s":"d","t":324,"v":0.4},{"s":"d","t":326,"v":1.3},{"s":"d","t":328,"v":1.6},{"s":"d","t":330,"v":1.2},{"s":"d","t":332,"v":1.8},{"s":"d","t":334,"v":1.3},{"s":"d","t":336,"v":1.5},{"s":"d","t":338,"v":1.1},{"s":"d","t":340,"v":1.6},{"s":"d","t":342,"v":1.2},{"s":"d","t":344,"v":1.8},{"s":"d","t":346,"v":1.3},{"s":"d","t":348,"v":1.5},{"s":"d","t":349,"v":1.0},{"s":"d","t":350,"v":2.3},{"s":"d","t":351,"v":3.0},{"s":"d","t":352,"v":4.0},{"s":"d","t":353,"v":5.0},{"s":"d","t":354,"v":6.0},{"s":"d","t":355,"v":7.0},{"s":"d","t":356,"v":8.0},{"s":"d","t":356.6,"v":9.0},
{"s":"e","t":475.6,"v":6.0},{"s":"e","t":476.5,"v":7.0},{"s":"e","t":477.5,"v":6.5},{"s":"e","t":478.5,"v":7.7},{"s":"e","t":479.5,"v":7.0},{"s":"e","t":480.5,"v":7.5},{"s":"e","t":481.5,"v":6.8},{"s":"e","t":482.3,"v":7.3},
{"s":"f","t":565.5,"v":1.9},{"s":"f","t":566.5,"v":0.8},{"s":"f","t":567.5,"v":1.5},{"s":"f","t":568.5,"v":0.6},{"s":"f","t":569.5,"v":1.2},{"s":"f","t":570.5,"v":0.4},{"s":"f","t":571.5,"v":1.0},{"s":"f","t":572.5,"v":0.5},{"s":"f","t":573.5,"v":1.3},{"s":"f","t":574.5,"v":0.6},{"s":"f","t":575.5,"v":1.2},{"s":"f","t":576.5,"v":0.5},{"s":"f","t":577.6,"v":0.9},{"s":"f","t":578.5,"v":2.5},{"s":"f","t":579.5,"v":4.0},{"s":"f","t":580.5,"v":5.2},{"s":"f","t":581.5,"v":6.5},{"s":"f","t":582.5,"v":7.5},{"s":"f","t":583.5,"v":8.5},{"s":"f","t":584.5,"v":8.0},{"s":"f","t":585.5,"v":9.0},{"s":"f","t":586.6,"v":9.6},
{"s":"g","t":737,"v":10.0},{"s":"g","t":737.5,"v":9.0},{"s":"g","t":738,"v":9.5},{"s":"g","t":738.5,"v":8.5},{"s":"g","t":739,"v":8.8},{"s":"g","t":740,"v":8.2},{"s":"g","t":741,"v":8.5},{"s":"g","t":742,"v":7.9},{"s":"g","t":743,"v":8.2},
{"s":"h","t":838,"v":1.5},{"s":"h","t":840,"v":0.8},{"s":"h","t":842,"v":1.2},{"s":"h","t":844,"v":0.6},{"s":"h","t":846,"v":1.0},{"s":"h","t":848,"v":0.5},{"s":"h","t":849,"v":3.5},{"s":"h","t":849.5,"v":1.0},{"s":"h","t":851,"v":1.2},{"s":"h","t":853,"v":0.6},{"s":"h","t":855,"v":0.9},{"s":"h","t":857,"v":1.2},{"s":"h","t":859,"v":0.8},{"s":"h","t":861,"v":1.0},{"s":"h","t":863,"v":0.6},{"s":"h","t":865,"v":0.9},{"s":"h","t":867,"v":1.2},{"s":"h","t":869,"v":0.8},{"s":"h","t":871,"v":1.0},{"s":"h","t":873,"v":0.7},{"s":"h","t":875,"v":1.0},{"s":"h","t":877,"v":0.8},{"s":"h","t":879,"v":0.9},{"s":"h","t":881,"v":1.0},{"s":"h","t":882,"v":3.5},{"s":"h","t":883,"v":4.8},{"s":"h","t":884,"v":4.0},{"s":"h","t":885,"v":5.5},{"s":"h","t":886,"v":5.0},{"s":"h","t":887,"v":6.0},{"s":"h","t":888,"v":6.5},{"s":"h","t":889,"v":6.2},{"s":"h","t":890,"v":6.9},
{"s":"i","t":1010.7,"v":0.8},{"s":"i","t":1012,"v":0.4},{"s":"i","t":1013,"v":1.2},{"s":"i","t":1014,"v":0.6},{"s":"i","t":1015,"v":1.5},{"s":"i","t":1016,"v":0.8},{"s":"i","t":1017,"v":1.8},{"s":"i","t":1018,"v":1.2},{"s":"i","t":1019,"v":2.2},{"s":"i","t":1020,"v":1.5},{"s":"i","t":1021,"v":2.6},{"s":"i","t":1022,"v":2.0},{"s":"i","t":1023,"v":3.1},{"s":"i","t":1024,"v":2.5},{"s":"i","t":1025,"v":3.1},{"s":"i","t":1026,"v":2.8},{"s":"i","t":1027,"v":5.2},{"s":"i","t":1028,"v":6.5},{"s":"i","t":1029,"v":7.5},{"s":"i","t":1030,"v":8.5},{"s":"i","t":1031,"v":9.0},{"s":"i","t":1032,"v":9.5},{"s":"i","t":1033,"v":10.0},
{"s":"j","t":1116,"v":1.5},{"s":"j","t":1118,"v":0.8},{"s":"j","t":1120,"v":1.3},{"s":"j","t":1122,"v":0.7},{"s":"j","t":1124,"v":1.2},{"s":"j","t":1125,"v":2.3},{"s":"j","t":1126,"v":1.0},{"s":"j","t":1128,"v":1.4},{"s":"j","t":1130,"v":0.7},{"s":"j","t":1132,"v":1.2},{"s":"j","t":1134,"v":0.8},{"s":"j","t":1136,"v":1.3},{"s":"j","t":1138,"v":0.7},{"s":"j","t":1140,"v":1.2},{"s":"j","t":1142,"v":0.8},{"s":"j","t":1144,"v":1.3},{"s":"j","t":1146,"v":0.7},{"s":"j","t":1148,"v":1.2},{"s":"j","t":1150,"v":0.8},{"s":"j","t":1152,"v":1.3},{"s":"j","t":1154,"v":0.7},{"s":"j","t":1156,"v":1.1},{"s":"j","t":1157,"v":2.3},{"s":"j","t":1158,"v":3.0},{"s":"j","t":1159,"v":3.8},{"s":"j","t":1160,"v":4.5},{"s":"j","t":1161,"v":5.2},{"s":"j","t":1162,"v":5.8},{"s":"j","t":1163,"v":6.3},{"s":"j","t":1164,"v":6.8},{"s":"j","t":1165,"v":7.0},{"s":"j","t":1166,"v":7.3},
{"s":"k1","t":1261,"v":6.5},{"s":"k1","t":1261.5,"v":5.6},{"s":"k1","t":1262,"v":6.2},
{"s":"k2","t":1266.7,"v":10.2},{"s":"k2","t":1267.5,"v":11.0},{"s":"k2","t":1268,"v":10.6},{"s":"k2","t":1269,"v":11.6},{"s":"k2","t":1269.5,"v":11.2},{"s":"k2","t":1270.5,"v":12.3},
{"s":"l","t":1377.7,"v":10.2},{"s":"l","t":1378.5,"v":11.5},{"s":"l","t":1379.5,"v":10.8},{"s":"l","t":1380.5,"v":12.2},{"s":"l","t":1381.5,"v":11.5},{"s":"l","t":1382.5,"v":12.7},{"s":"l","t":1383.5,"v":11.8},{"s":"l","t":1384.4,"v":12.5},
{"s":"m","t":1428,"v":15.0},{"s":"m","t":1428.5,"v":13.2},{"s":"m","t":1429,"v":16.2},{"s":"m","t":1429.5,"v":14.5},{"s":"m","t":1430,"v":15.8},{"s":"m","t":1430.5,"v":13.5},{"s":"m","t":1431,"v":14.8},{"s":"m","t":1431.5,"v":16.0},{"s":"m","t":1432,"v":12.8},{"s":"m","t":1432.5,"v":15.2},{"s":"m","t":1433,"v":14.0},
{"s":"n","t":1569.6,"v":2.0},{"s":"n","t":1570.3,"v":3.8},{"s":"n","t":1571,"v":1.5},{"s":"n","t":1571.7,"v":0.8},{"s":"n","t":1572.4,"v":2.5},{"s":"n","t":1573.2,"v":1.2},{"s":"n","t":1574,"v":3.0},{"s":"n","t":1574.7,"v":2.5},{"s":"n","t":1575.5,"v":4.0},{"s":"n","t":1576.3,"v":4.8}
]
},
"vconcat": [
{
 "width": 1323, "height": 167,
 "title": {"text": "Estimated Instantaneous Speed at 30 Hz vs Ground Truth From Instrumented Vehicle"},
 "encoding": {
  "x": {"field": "t", "type": "quantitative", "scale": {"domain": [-80.6, 1692.6], "nice": false, "zero": false}, "axis": {"title": null, "values": [0,200,400,600,800,1000,1200,1400,1600]}},
  "y": {"field": "v", "type": "quantitative", "stack": null, "scale": {"domain": [-2.46, 25.26], "nice": false, "zero": false}, "axis": {"title": "Speed (m/s)", "values": [0,5,10,15,20,25], "format": "d"}}
 },
 "layer": [
  {"data": {"name": "p1core"}, "mark": {"type": "area", "color": "#bfbf00", "opacity": 0.95}, "encoding": {"y2": {"datum": 0}, "detail": {"field": "s"}}},
  {"data": {"name": "p1pts"}, "mark": {"type": "point", "shape": "square", "filled": true, "size": 5, "color": "#bfbf00", "opacity": 0.9}},
  {"data": {"name": "truth"}, "mark": {"type": "line", "color": "black", "strokeWidth": 1}}
 ]
},
{
 "width": 1323, "height": 166,
 "title": {"text": "With 1/3 Second Moving Average Smoothing"},
 "encoding": {
  "x": {"field": "t", "type": "quantitative", "scale": {"domain": [-80.6, 1692.6], "nice": false, "zero": false}, "axis": {"title": null, "values": [0,200,400,600,800,1000,1200,1400,1600]}},
  "y": {"field": "v", "type": "quantitative", "scale": {"domain": [-2.2, 19.8], "nice": false, "zero": false}, "axis": {"title": "Speed (m/s)", "values": [0,2.5,5,7.5,10,12.5,15,17.5], "format": ".1f"}}
 },
 "layer": [
  {"data": {"name": "p2"}, "mark": {"type": "line", "color": "#bfbf00", "strokeWidth": 3, "strokeJoin": "miter"}, "encoding": {"detail": {"field": "s"}}},
  {"data": {"name": "truth"}, "mark": {"type": "line", "color": "black", "strokeWidth": 1}}
 ]
},
{
 "width": 1323, "height": 167,
 "title": {"text": "With 1 Second Moving Average Smoothing"},
 "encoding": {
  "x": {"field": "t", "type": "quantitative", "scale": {"domain": [-80.6, 1692.6], "nice": false, "zero": false}, "axis": {"title": "Time (seconds)", "values": [0,200,400,600,800,1000,1200,1400,1600]}},
  "y": {"field": "v", "type": "quantitative", "scale": {"domain": [-2.17, 19.07], "nice": false, "zero": false}, "axis": {"title": "Speed (m/s)", "values": [0,2.5,5,7.5,10,12.5,15,17.5], "format": ".1f"}}
 },
 "layer": [
  {"data": {"name": "p3"}, "mark": {"type": "line", "color": "#bfbf00", "strokeWidth": 2.5, "strokeJoin": "miter"}, "encoding": {"detail": {"field": "s"}}},
  {"data": {"name": "truth"}, "mark": {"type": "line", "color": "black", "strokeWidth": 1}}
 ]
}
]
}
